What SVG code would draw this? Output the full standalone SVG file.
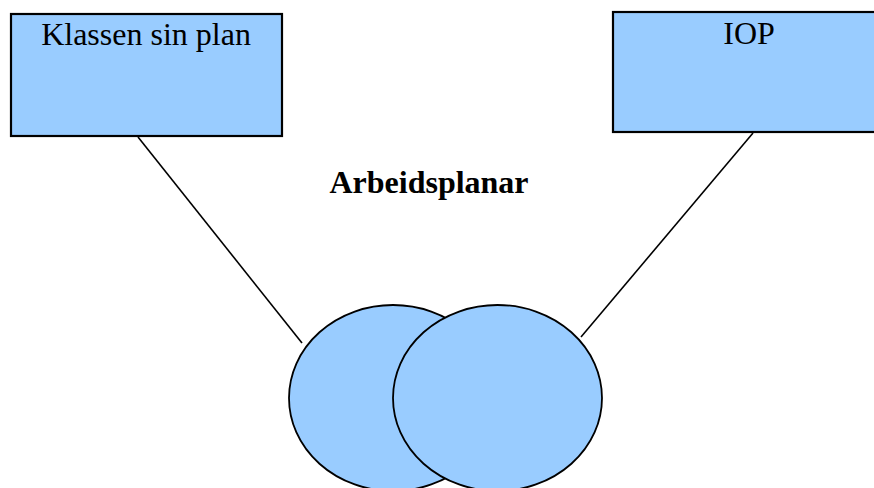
<svg xmlns="http://www.w3.org/2000/svg" width="874" height="488" viewBox="0 0 874 488">
<style>
.box{fill:#99ccff;stroke:#000;stroke-width:2.2}
.ell{fill:#99ccff;stroke:#000;stroke-width:1.8}
.conn{stroke:#000;stroke-width:1.6;fill:none}
.t{font-family:"Liberation Serif","Times New Roman",serif;font-size:32px;fill:#000;text-anchor:middle}
</style>
<rect width="874" height="488" fill="#fff"/>
<g id="connectors">
<line class="conn" x1="138" y1="137" x2="302" y2="343"/>
<line class="conn" x1="753" y1="133" x2="581" y2="337"/>
</g>
<g id="klassen">
<rect class="box" x="11" y="14" width="271" height="122"/>
<text class="t" x="146" y="45">Klassen sin plan</text>
</g>
<g id="iop">
<rect class="box" x="613" y="12" width="270" height="120"/>
<text class="t" x="749" y="44">IOP</text>
</g>
<g id="label">
<text class="t" x="429" y="193" font-weight="bold">Arbeidsplanar</text>
</g>
<g id="ellipse-left">
<ellipse class="ell" cx="393" cy="398" rx="104" ry="93"/>
</g>
<g id="ellipse-right">
<ellipse class="ell" cx="497.5" cy="398" rx="104.5" ry="93"/>
</g>
</svg>
